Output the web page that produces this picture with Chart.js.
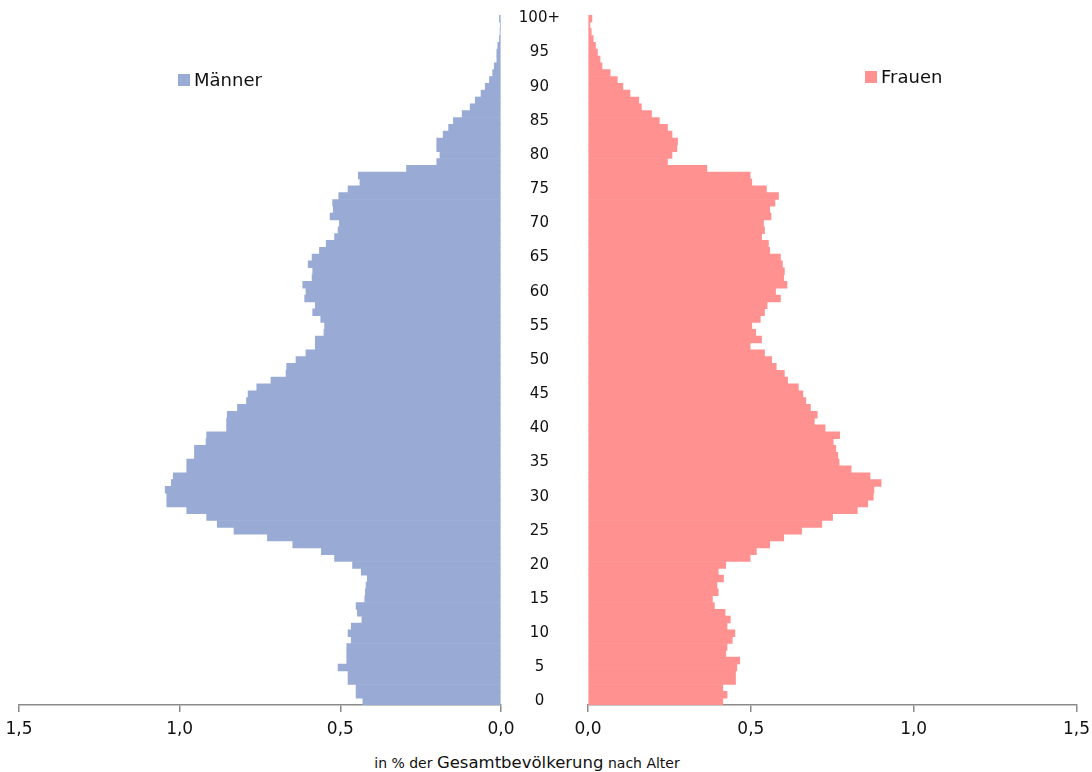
<!DOCTYPE html>
<html>
<head>
<meta charset="utf-8">
<script src="https://cdn.jsdelivr.net/npm/chart.js@4.4.1/dist/chart.umd.min.js"></script>
<style>
  body { margin: 0; background: #fff; font-family: 'DejaVu Sans', sans-serif; overflow: hidden; }
  #wrap { position: relative; width: 1092px; height: 772px; overflow: hidden; }
  .box { position: absolute; top: 0; height: 745px; }
  .leg { position: absolute; font-size: 18px; color: #111; }
  .leg span { display: inline-block; width: 12px; height: 12px; margin-right: 4px; }
  #title { position: absolute; left: -19px; width: 1092px; top: 753px; text-align: center; color: #111; }
</style>
</head>
<body>
<div id="wrap">
  <div class="box" style="left:0; width:520px;"><canvas id="menChart"></canvas></div>
  <div class="box" style="left:501px; width:596px;"><canvas id="womenChart"></canvas></div>
  <div class="leg" style="left:178px; top:69px;"><span style="background:#99abd5"></span>Männer</div>
  <div class="leg" style="left:865px; top:66px;"><span style="background:#ff9190"></span>Frauen</div>
  <div id="title"><span style="font-size:14px">in % der </span><span style="font-size:16.5px">Gesamtbevölkerung</span><span style="font-size:14px"> nach Alter</span></div>
</div>
<script>
// ages 0..99 and 100+
var ages = [];
for (var i = 0; i < 100; i++) ages.push(String(i));
ages.push('100+');

// share of total population in %, index = age
var men = [
    0.430, 0.451, 0.451, 0.476, 0.476, 0.507, 0.480, 0.480, 0.480, 0.466,
    0.476, 0.466, 0.433, 0.447, 0.451, 0.424, 0.422, 0.420, 0.416, 0.435,
    0.462, 0.518, 0.559, 0.648, 0.727, 0.831, 0.883, 0.916, 0.978, 1.040,
    1.040, 1.045, 1.026, 1.020, 0.978, 0.978, 0.954, 0.954, 0.918, 0.916,
    0.854, 0.854, 0.852, 0.820, 0.792, 0.787, 0.760, 0.716, 0.669, 0.667,
    0.638, 0.607, 0.578, 0.578, 0.551, 0.549, 0.561, 0.586, 0.578, 0.611,
    0.607, 0.617, 0.588, 0.586, 0.600, 0.588, 0.565, 0.544, 0.518, 0.507,
    0.503, 0.532, 0.522, 0.524, 0.505, 0.476, 0.439, 0.444, 0.294, 0.200,
    0.190, 0.200, 0.200, 0.180, 0.163, 0.148, 0.121, 0.096, 0.080, 0.062,
    0.049, 0.036, 0.026, 0.021, 0.013, 0.013, 0.010, 0.005, 0.003, 0.002,
    0.005
];
var women = [
    0.414, 0.427, 0.414, 0.453, 0.453, 0.457, 0.466, 0.423, 0.427, 0.443,
    0.451, 0.427, 0.437, 0.421, 0.388, 0.382, 0.400, 0.396, 0.416, 0.400,
    0.423, 0.498, 0.517, 0.558, 0.601, 0.656, 0.718, 0.751, 0.827, 0.859,
    0.876, 0.878, 0.900, 0.866, 0.808, 0.771, 0.767, 0.761, 0.753, 0.773,
    0.728, 0.695, 0.704, 0.683, 0.669, 0.660, 0.646, 0.613, 0.603, 0.578,
    0.564, 0.542, 0.498, 0.533, 0.515, 0.503, 0.529, 0.542, 0.550, 0.591,
    0.576, 0.611, 0.601, 0.603, 0.597, 0.591, 0.558, 0.554, 0.533, 0.542,
    0.539, 0.562, 0.558, 0.574, 0.585, 0.548, 0.503, 0.498, 0.365, 0.244,
    0.258, 0.273, 0.275, 0.258, 0.244, 0.219, 0.195, 0.164, 0.156, 0.129,
    0.107, 0.090, 0.068, 0.043, 0.037, 0.029, 0.023, 0.016, 0.010, 0.006,
    0.012
];
var xTicks = [0, 0.5, 1.0, 1.5];

var tickFont = { family: 'DejaVu Sans', size: 17 };

function xAxis(reverse) {
    return {
        type: 'linear',
        min: 0,
        max: 1.5,
        reverse: reverse,
        afterBuildTicks: function (scale) {
            scale.ticks = xTicks.map(function (v) { return { value: v }; });
        },
        afterFit: function (scale) { scale.height = 40; },
        grid: { drawOnChartArea: false, drawTicks: true, tickLength: 7, color: '#8a8a8a', lineWidth: 1.5 },
        border: { display: true, color: '#8a8a8a', width: 1.5 },
        ticks: {
            color: '#111',
            font: tickFont,
            padding: 7,
            maxRotation: 0,
            callback: function (v) { return v.toFixed(1).replace('.', ','); }
        }
    };
}

function makeChart(id, data, color, reverse, padding, showAges) {
    return new Chart(document.getElementById(id).getContext('2d'), {
        type: 'bar',
        data: {
            labels: ages,
            datasets: [{
                data: data,
                backgroundColor: color,
                borderWidth: 0,
                categoryPercentage: 1.0,
                barPercentage: 1.0
            }]
        },
        options: {
            indexAxis: 'y',
            responsive: true,
            maintainAspectRatio: false,
            animation: false,
            layout: { padding: padding },
            plugins: { legend: { display: false }, tooltip: { enabled: false } },
            scales: {
                x: xAxis(reverse),
                y: {
                    type: 'category',
                    reverse: true,
                    position: 'left',
                    display: showAges,
                    afterFit: function (scale) { scale.width = showAges ? 87 : 0; },
                    // invisible tick marks push the age labels toward the gap centre
                    grid: { display: false, drawTicks: true, tickLength: 28 },
                    border: { display: false },
                    ticks: {
                        autoSkip: false,
                        color: '#111',
                        font: { family: 'DejaVu Sans', size: 15 },
                        crossAlign: 'center',
                        padding: 0,
                        callback: function (v, i) { return i % 5 === 0 ? ages[i] : ''; }
                    }
                }
            }
        }
    });
}

makeChart('menChart', men, '#99abd5', true, { left: 19, right: 19, top: 15, bottom: 0 }, false);
makeChart('womenChart', women, '#ff9190', false, { left: 0, right: 0, top: 15, bottom: 0 }, true);
</script>
</body>
</html>
